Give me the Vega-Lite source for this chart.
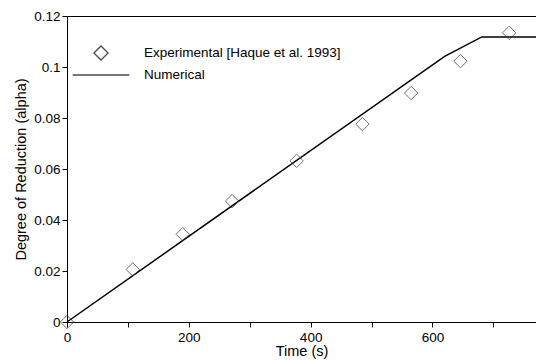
{
  "$schema": "https://vega.github.io/schema/vega-lite/v6.json",
  "width": 469,
  "height": 306,
  "autosize": "none",
  "padding": {"left": 67, "top": 16, "right": 0, "bottom": 39},
  "background": "white",
  "config": {
    "font": "Liberation Sans",
    "view": {"stroke": "black", "strokeWidth": 1},
    "axis": {
      "grid": false,
      "domainColor": "black",
      "tickColor": "black",
      "labelColor": "black",
      "titleColor": "black",
      "labelFontSize": 13.5,
      "titleFontSize": 14.5,
      "titleFontWeight": "normal",
      "labelFont": "Liberation Sans",
      "titleFont": "Liberation Sans",
      "labelOverlap": false,
      "labelFlush": false,
      "tickSize": 5
    }
  },
  "datasets": {
    "exp": [
      {"t": 0, "alpha": 0, "series": "Experimental [Haque et al. 1993]"},
      {"t": 108, "alpha": 0.0206, "series": "Experimental [Haque et al. 1993]"},
      {"t": 190, "alpha": 0.0344, "series": "Experimental [Haque et al. 1993]"},
      {"t": 271, "alpha": 0.0474, "series": "Experimental [Haque et al. 1993]"},
      {"t": 377, "alpha": 0.0632, "series": "Experimental [Haque et al. 1993]"},
      {"t": 485, "alpha": 0.0776, "series": "Experimental [Haque et al. 1993]"},
      {"t": 565, "alpha": 0.0898, "series": "Experimental [Haque et al. 1993]"},
      {"t": 646, "alpha": 0.1023, "series": "Experimental [Haque et al. 1993]"},
      {"t": 726, "alpha": 0.1134, "series": "Experimental [Haque et al. 1993]"}
    ],
    "num": [
      {"t": 0, "alpha": 0},
      {"t": 620, "alpha": 0.1042},
      {"t": 681, "alpha": 0.1118},
      {"t": 770, "alpha": 0.1118}
    ]
  },
  "layer": [
    {
      "data": {"name": "num"},
      "mark": {"type": "line", "color": "black", "strokeWidth": 1.5},
      "encoding": {
        "x": {
          "field": "t", "type": "quantitative",
          "scale": {"domain": [0, 770], "nice": false, "zero": false},
          "axis": {
            "title": "Time (s)",
            "values": [0, 50, 100, 150, 200, 250, 300, 350, 400, 450, 500, 550, 600, 650, 700, 750],
            "labelExpr": "datum.value % 200 == 0 ? datum.label : ''",
            "format": "d",
            "labelPadding": 3,
            "titlePadding": 1
          }
        },
        "y": {
          "field": "alpha", "type": "quantitative",
          "scale": {"domain": [0, 0.12], "nice": false, "zero": false},
          "axis": {
            "title": "Degree of Reduction (alpha)",
            "values": [0, 0.005, 0.01, 0.015, 0.02, 0.025, 0.03, 0.035, 0.04, 0.045, 0.05, 0.055, 0.06, 0.065, 0.07, 0.075, 0.08, 0.085, 0.09, 0.095, 0.1, 0.105, 0.11, 0.115, 0.12],
            "format": ".2~f",
            "labelExpr": "abs(datum.value*50 - round(datum.value*50)) < 0.001 ? datum.label : ''",
            "labelPadding": 2,
            "titlePadding": 5
          }
        }
      }
    },
    {
      "data": {"name": "exp"},
      "mark": {"type": "point", "filled": false, "size": 180, "color": "#333333", "strokeWidth": 1},
      "encoding": {
        "x": {"field": "t", "type": "quantitative"},
        "y": {"field": "alpha", "type": "quantitative"},
        "shape": {
          "field": "series", "type": "nominal",
          "scale": {
            "domain": ["Experimental [Haque et al. 1993]", "Numerical"],
            "range": ["diamond", "M-4,0L4,0"]
          },
          "legend": {
            "title": null,
            "orient": "none",
            "legendX": 26,
            "legendY": 29,
            "padding": 0,
            "symbolSize": 200,
            "symbolStrokeColor": "black",
            "symbolFillColor": "transparent",
            "symbolStrokeWidth": 1.3,
            "labelOffset": 35,
            "labelFontSize": 13.5,
            "labelFont": "Liberation Sans",
            "labelColor": "black",
            "rowPadding": 4,
            "labelLimit": 400
          }
        }
      }
    }
  ]
}
